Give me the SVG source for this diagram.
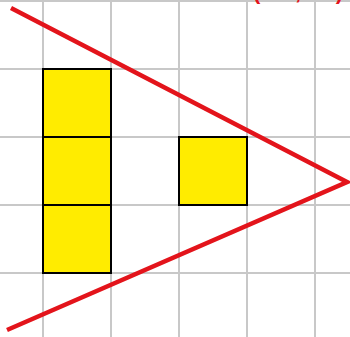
<svg xmlns="http://www.w3.org/2000/svg" width="350" height="337" viewBox="0 0 350 337">
<style>
.grid{stroke:#c8c8c8;stroke-width:2;fill:none}
.sq{fill:#ffec00;stroke:#000;stroke-width:2}
.red{stroke:#e3141b;stroke-width:4.5;fill:none;stroke-linecap:butt}
.lbl{fill:#e3141b;font-family:"Liberation Sans",Arial,sans-serif;font-size:22px;font-weight:bold}
</style>
<rect width="350" height="337" fill="#fff"/>
<g id="grid" class="grid">
<line x1="43" y1="0" x2="43" y2="337"/>
<line x1="111" y1="0" x2="111" y2="337"/>
<line x1="179" y1="0" x2="179" y2="337"/>
<line x1="247" y1="0" x2="247" y2="337"/>
<line x1="315" y1="0" x2="315" y2="337"/>
<line x1="0" y1="1" x2="350" y2="1"/>
<line x1="0" y1="69" x2="350" y2="69"/>
<line x1="0" y1="137" x2="350" y2="137"/>
<line x1="0" y1="205" x2="350" y2="205"/>
<line x1="0" y1="273" x2="350" y2="273"/>
</g>
<g id="sq1"><rect class="sq" x="43" y="69" width="68" height="68"/></g>
<g id="sq2"><rect class="sq" x="43" y="137" width="68" height="68"/></g>
<g id="sq3"><rect class="sq" x="43" y="205" width="68" height="68"/></g>
<g id="sq4"><rect class="sq" x="179" y="137" width="68" height="68"/></g>
<g id="connectors">
<polyline class="red" points="11,8 347,182 7,330"/>
</g>
<text class="lbl" x="253" y="-1" textLength="90" lengthAdjust="spacing">(2,2)</text>
</svg>
